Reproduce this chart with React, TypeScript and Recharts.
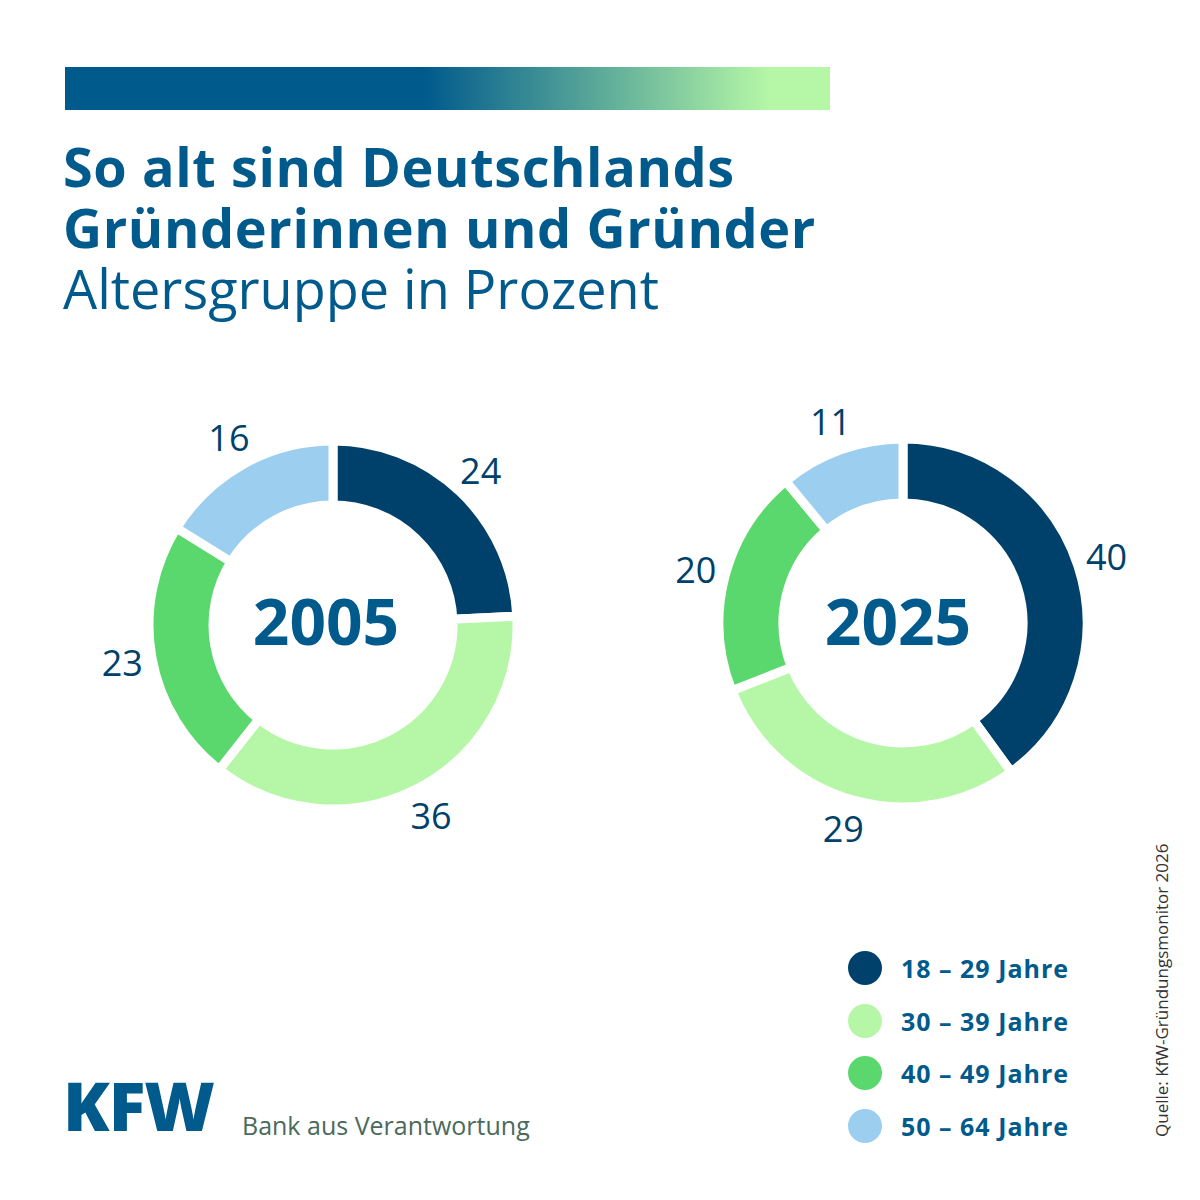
import React from "react";
import { PieChart, Pie, Cell } from "recharts";

const categories = ["18 – 29 Jahre", "30 – 39 Jahre", "40 – 49 Jahre", "50 – 64 Jahre"];
const values2005 = [24, 36, 23, 16];
const values2025 = [40, 29, 20, 11];
const colors = ["#00416B", "#B5F7A6", "#5AD86E", "#9CCFEF"];
const years = ["2005", "2025"];

const d2005 = categories.map((c, i) => ({ name: c, value: values2005[i] }));
const d2025 = categories.map((c, i) => ({ name: c, value: values2025[i] }));

const RAD = Math.PI / 180;
const mkLabel = (props: any) => {
  const { cx, cy, midAngle, outerRadius, value } = props;
  const r = outerRadius + 30;
  const x = cx + r * Math.cos(-midAngle * RAD);
  const y = cy + r * Math.sin(-midAngle * RAD);
  return (
    <text x={x} y={y} fill="#00416B" fontSize={36} fontFamily="Open Sans" textAnchor="middle" dominantBaseline="central">
      {value}
    </text>
  );
};

export default function App() {
  const blue = "#005A8C";
  return (
    <div style={{ position: "absolute", left: 0, top: 0, width: 1200, height: 1200, background: "#fff", fontFamily: "Open Sans", overflow: "hidden" }}>
      <svg style={{ position: "absolute", left: 0, top: 0 }} width={1200} height={120}>
        <defs>
          <linearGradient id="bar" x1="0" x2="1">
            <stop offset="0.47" stopColor={blue} />
            <stop offset="0.92" stopColor="#B5F7A6" />
          </linearGradient>
        </defs>
        <rect x={65} y={67} width={765} height={43} fill="url(#bar)" />
      </svg>
      <div style={{ position: "absolute", left: 63, top: 136, color: blue, fontWeight: 700, fontSize: 54, lineHeight: "61px", letterSpacing: 0.6, whiteSpace: "nowrap" }}>
        So alt sind Deutschlands<br />Gründerinnen und Gründer
      </div>
      <div style={{ position: "absolute", left: 63, top: 256, color: blue, fontSize: 54, lineHeight: "64px", whiteSpace: "nowrap" }}>
        Altersgruppe in Prozent
      </div>
      <div style={{ position: "absolute", left: 0, top: 0 }}>
        <PieChart width={1200} height={1200}>
          <Pie data={d2005} dataKey="value" cx={328} cy={620} innerRadius={120} outerRadius={184} startAngle={90} endAngle={-270}
            stroke="#fff" strokeWidth={9} isAnimationActive={false} label={mkLabel} labelLine={false}>
            {d2005.map((_, i) => <Cell key={i} fill={colors[i]} />)}
          </Pie>
          <Pie data={d2025} dataKey="value" cx={898} cy={618} innerRadius={120} outerRadius={184} startAngle={90} endAngle={-270}
            stroke="#fff" strokeWidth={9} isAnimationActive={false} label={mkLabel} labelLine={false}>
            {d2025.map((_, i) => <Cell key={i} fill={colors[i]} />)}
          </Pie>
          <text x={326} y={620} textAnchor="middle" dominantBaseline="central" fill={blue} fontSize={64} fontWeight={700} fontFamily="Open Sans">{years[0]}</text>
          <text x={898} y={620} textAnchor="middle" dominantBaseline="central" fill={blue} fontSize={64} fontWeight={700} fontFamily="Open Sans">{years[1]}</text>
        </PieChart>
      </div>
      {categories.map((c, i) => (
        <div key={c} style={{ position: "absolute", left: 848, top: 951 + i * 52.5, display: "flex", alignItems: "center" }}>
          <div style={{ width: 34, height: 34, borderRadius: 17, background: colors[i] }} />
          <span style={{ marginLeft: 19, color: blue, fontSize: 25, fontWeight: 700, letterSpacing: 1 }}>{c}</span>
        </div>
      ))}
      <div style={{ position: "absolute", left: 1150, top: 1137, transform: "rotate(-90deg)", transformOrigin: "0 0", whiteSpace: "nowrap", fontSize: 17, color: "#333" }}>
        Quelle: KfW-Gründungsmonitor 2026
      </div>
      <div style={{ position: "absolute", left: 63, top: 1065, color: blue, fontSize: 68, fontWeight: 800, letterSpacing: -1, lineHeight: "80px" }}>KFW</div>
      <div style={{ position: "absolute", left: 242, top: 1108, color: "#4B6A5C", fontSize: 25 }}>Bank aus Verantwortung</div>
    </div>
  );
}
